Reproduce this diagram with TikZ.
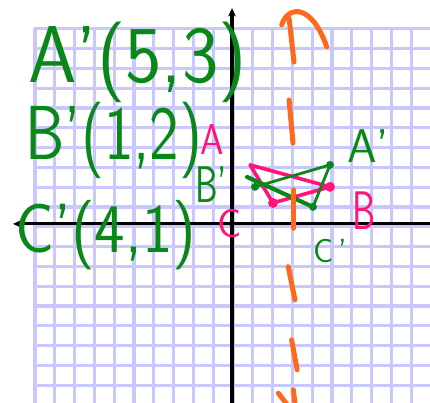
\documentclass[tikz,border=0pt]{standalone}
\usepackage{fontspec}
\usepackage{tikz}
\usepackage{xcolor}
\usetikzlibrary{arrows.meta,calc}

\definecolor{gridblue}{RGB}{200,200,255}
\definecolor{inkgreen}{RGB}{10,135,25}
\definecolor{inkpink}{RGB}{255,20,120}
\definecolor{inkorange}{RGB}{255,105,30}

\begin{document}
\begin{tikzpicture}[x=5mm,y=5mm,line cap=round,line join=round,
    greenink/.style={draw=inkgreen,line width=2pt},
    pinkink/.style={draw=inkpink,line width=2.6pt},
    mirror/.style={draw=inkorange,line width=3.6pt},
    hand/.style={inner sep=0pt,anchor=base west}]
  \useasboundingbox (-11.72,-9.04) rectangle (10,11.31);
  \clip (-11.72,-9.04) rectangle (10,11.31);
  \foreach \i in {0,...,19} \draw[gridblue,line width=2.3pt] (-9.95+\i,-9.2)--(-9.95+\i,9.85);%縦線
  \foreach \i in {0,...,18} \draw[gridblue,line width=2.3pt] (-9.95,9.85-\i)--(10.2,9.85-\i);%横線
  \draw[-{Stealth[length=6pt,width=5.5pt]},line width=2.2pt](10.2,0)--(-11.06,0);%x軸
  \draw[-{Stealth[length=6pt,width=5.5pt]},line width=2.2pt](0,-9.2)--(0,10.9);%y軸

  % 座標の書き込み
  \node[hand,text=inkgreen,font=\sffamily\fontsize{58}{58}\selectfont] (Apcoord) at (-10.30,7.12) {\scalebox{0.96}[1]{A’(5,3)}};
  \node[hand,text=inkgreen,font=\sffamily\fontsize{55}{55}\selectfont] (Bpcoord) at (-10.45,3.23) {\scalebox{0.82}[1]{B’(1,2)}};
  \node[hand,text=inkgreen,font=\sffamily\fontsize{50}{50}\selectfont] (Cpcoord) at (-10.96,-1.46) {\scalebox{0.93}[1]{C’(4,1)}};

  % 元の三角形 ABC
  \coordinate (A) at (0.91,2.98);
  \coordinate (B) at (4.95,1.87);
  \coordinate (C) at (2.07,1.06);
  \draw[pinkink] (A)--(B)--(C)--cycle;
  \fill[inkpink] (B) circle (0.25) (C) circle (0.25);
  % 鏡映した三角形 A'B'C'
  \coordinate (Ap) at (4.95,2.98);
  \coordinate (Bp) at (1.16,1.87);
  \coordinate (Cp) at (4.09,0.86);
  \coordinate (Bpend) at (0.76,2.37);
  \draw[greenink] (Bp)--(Ap)--(Cp);
  \draw[greenink,line width=3pt] (Cp)--(Bpend);
  \fill[inkgreen] (Ap) circle (0.2) (Bp) circle (0.2) (Cp) circle (0.2);

  % 頂点の名前
  \node[hand,text=inkpink,font=\sffamily\fontsize{31}{31}\selectfont] (Alab) at (-1.62,3.50) {\scalebox{0.87}[1]{A}};
  \node[hand,text=inkgreen,font=\sffamily\fontsize{37}{37}\selectfont] (Bplab) at (-1.87,1.10) {\scalebox{0.7}[1]{B’}};
  \node[hand,text=inkpink,font=\sffamily\fontsize{29}{29}\selectfont] (Clab) at (-0.76,-0.71) {C};
  \node[hand,text=inkpink,font=\sffamily\fontsize{39}{39}\selectfont] (Blab) at (6.06,-0.30) {\scalebox{0.68}[1]{B}};
  \node[hand,text=inkgreen,font=\sffamily\fontsize{34}{34}\selectfont] (Aplab) at (5.81,3.08) {A’};
  \node[hand,text=inkgreen,font=\sffamily\fontsize{24}{24}\selectfont] (Cplab) at (4.09,-1.97) {C\kern4pt’};

  % 鏡の線 x=3
  \draw[mirror] (2.51,10.05) .. controls (2.83,11.06) and (4.04,11.11) .. (4.78,8.95);
  \draw[mirror] (2.88,10.40)--(3.13,8.18);
  \draw[mirror] (2.88,6.26)--(3.08,4.09);
  \draw[mirror] (3.11,1.72)--(3.11,-0.22);
  \draw[mirror] (2.84,-2.16)--(3.18,-3.84);
  \draw[mirror] (3.01,-5.86)--(3.29,-7.37);
  \draw[mirror] (2.34,-8.55)--(2.76,-9.1);
  \draw[mirror] (3.10,-8.38)--(3.18,-9.1);
\end{tikzpicture}
\end{document}
